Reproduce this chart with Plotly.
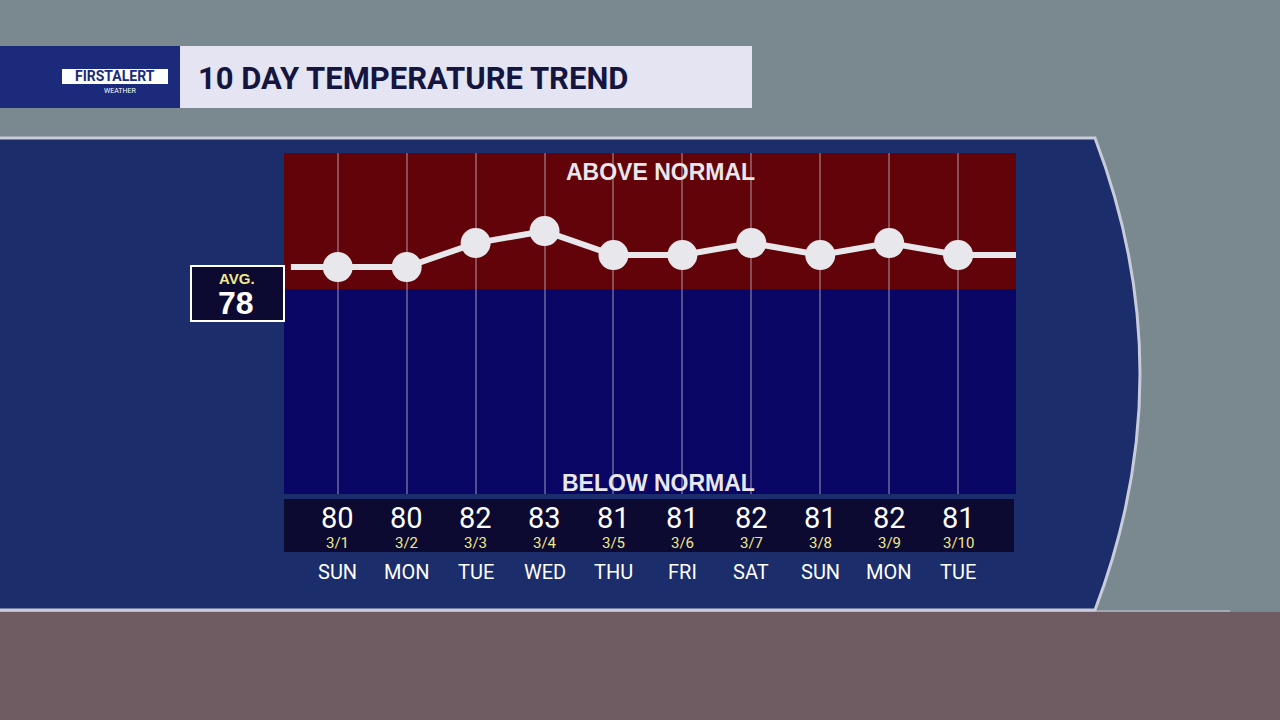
import plotly.graph_objects as go

days = ["SUN","MON","TUE","WED","THU","FRI","SAT","SUN","MON","TUE"]
dates = ["3/1","3/2","3/3","3/4","3/5","3/6","3/7","3/8","3/9","3/10"]
temps = [80,80,82,83,81,81,82,81,82,81]
normal = 78

W, H = 1280, 720
def px(x): return x / W
def py(y): return 1 - y / H

x = list(range(len(temps)))
fig = go.Figure()
fig.add_trace(go.Scatter(x=[-0.68] + x + [9.84], y=[temps[0]] + temps + [temps[-1]],
                         mode="lines", line=dict(color="#e8e8ec", width=6),
                         hoverinfo="skip", cliponaxis=False))
fig.add_trace(go.Scatter(x=x, y=temps, mode="markers",
                         marker=dict(color="#e8e8ec", size=30), cliponaxis=False))

shapes = []
shapes.append(dict(type="rect", xref="paper", yref="paper", x0=0, x1=1, y0=py(612), y1=1,
                   fillcolor="#7a8890", line_width=0, layer="below"))
shapes.append(dict(type="rect", xref="paper", yref="paper", x0=0, x1=1, y0=0, y1=py(612),
                   fillcolor="#6e5c62", line_width=0, layer="below"))
shapes.append(dict(type="path", xref="paper", yref="paper",
                   path=f"M -0.01 {py(138)} L {px(1095)} {py(138)} Q {px(1185)} {py(374)} {px(1095)} {py(610)} L -0.01 {py(610)} Z",
                   fillcolor="#1b2d6a", line=dict(color="#c8ccd8", width=3), layer="below"))
shapes.append(dict(type="line", xref="paper", yref="paper", x0=0, x1=px(1230), y0=py(611), y1=py(611),
                   line=dict(color="#c8ccd8", width=1), layer="below"))
shapes.append(dict(type="rect", xref="paper", yref="paper", x0=0, x1=px(752), y0=py(108), y1=py(46),
                   fillcolor="#e4e4f2", line_width=0, layer="below"))
shapes.append(dict(type="rect", xref="paper", yref="paper", x0=0, x1=px(180), y0=py(108), y1=py(46),
                   fillcolor="#1b2a7a", line_width=0, layer="below"))
shapes.append(dict(type="rect", xref="paper", yref="paper", x0=px(62), x1=px(168), y0=py(84), y1=py(69),
                   fillcolor="white", line_width=0, layer="below"))
shapes.append(dict(type="rect", xref="x domain", yref="paper", x0=0, x1=1, y0=py(289), y1=py(153),
                   fillcolor="#620309", line_width=0, layer="below"))
shapes.append(dict(type="rect", xref="x domain", yref="paper", x0=0, x1=1, y0=py(494), y1=py(289),
                   fillcolor="#0a0665", line_width=0, layer="below"))
shapes.append(dict(type="rect", xref="paper", yref="paper", x0=px(284), x1=px(1014), y0=py(552), y1=py(499),
                   fillcolor="#0c0a30", line_width=0, layer="below"))
shapes.append(dict(type="rect", xref="paper", yref="paper", x0=px(191), x1=px(284), y0=py(321), y1=py(266),
                   fillcolor="#0c0a30", line=dict(color="white", width=2), layer="below"))

ann = []
def A(xv, yv, text, size, color, family="Roboto", xref="paper", xanchor="center"):
    ann.append(dict(x=xv, y=py(yv), xref=xref, yref="paper", text=text, showarrow=False,
                    xanchor=xanchor, yanchor="middle", font=dict(family=family, size=size, color=color)))

A(px(115), 76, "<b>FIRSTALERT</b>", 14, "#1b2a7a")
A(px(120), 91, "WEATHER", 7, "white")
A(px(196), 78, "<b>10 DAY TEMPERATURE TREND</b>", 31, "#151640", xanchor="left")
A(px(660), 172, "<b>ABOVE NORMAL</b>", 23, "#e8e8ec", "Liberation Sans")
A(px(658), 483, "<b>BELOW NORMAL</b>", 23, "#e8e8ec", "Liberation Sans")
A(px(237), 278, "<b>AVG.</b>", 15, "#f0e88a", "Liberation Sans")
A(px(236), 303, f"<b>{normal}</b>", 32, "white", "Liberation Sans")
for i in range(len(temps)):
    A(i, 518, str(temps[i]), 29, "white", xref="x")
    A(i, 543, dates[i], 15, "#f0e88a", xref="x")
    A(i, 572, days[i], 20, "white", xref="x")

fig.update_layout(width=W, height=H, margin=dict(l=0, r=0, t=0, b=0), showlegend=False,
                  paper_bgcolor="#7a8890", plot_bgcolor="rgba(0,0,0,0)",
                  shapes=shapes, annotations=ann,
                  xaxis=dict(domain=[px(284), px(1016)], range=[-0.78, 9.84], showgrid=True,
                             gridcolor="rgba(220,220,230,0.35)", gridwidth=2, dtick=1,
                             showticklabels=False, zeroline=False, fixedrange=True),
                  yaxis=dict(domain=[py(494), py(153)], range=[61.1, 89.5], showgrid=False,
                             showticklabels=False, zeroline=False, fixedrange=True))
fig.write_html("out.html", post_script="document.body.style.margin='0';",
               config={"displayModeBar": False})
